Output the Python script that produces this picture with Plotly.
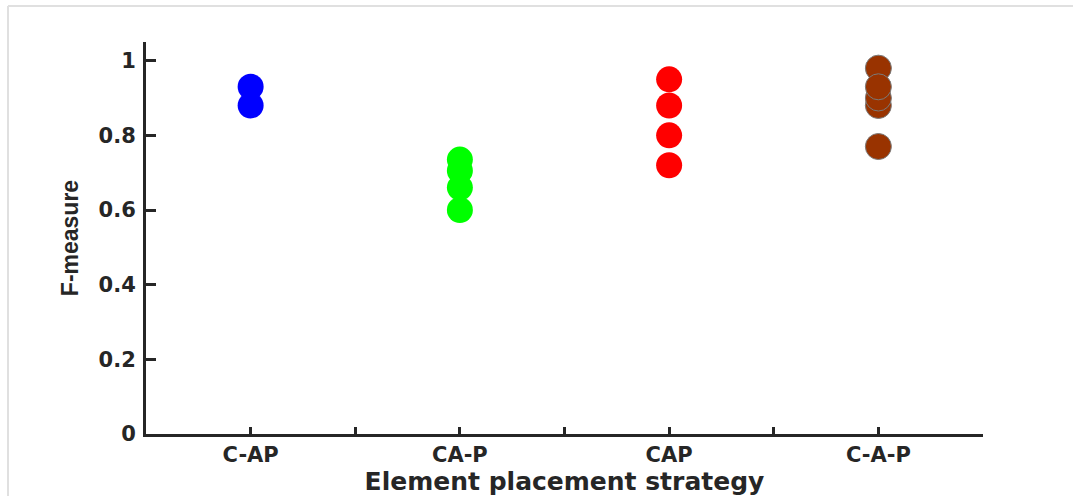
import plotly.graph_objects as go

# Strategies on the x axis and the F-measure of each run
strategies = ["C-AP", "CA-P", "CAP", "C-A-P"]
fm_c_ap = [0.93, 0.88]
fm_ca_p = [0.735, 0.705, 0.66, 0.60]
fm_cap = [0.95, 0.88, 0.80, 0.72]
fm_c_a_p = [0.77, 0.88, 0.90, 0.98, 0.93]
y_ticks = [0, 0.2, 0.4, 0.6, 0.8, 1]
y_tick_text = ["0", "0.2", "0.4", "0.6", "0.8", "1"]

series = [
    (fm_c_ap, "#0000ff", None),
    (fm_ca_p, "#00ff00", None),
    (fm_cap, "#ff0000", None),
    (fm_c_a_p, "#993300", "#7a7a7a"),
]

WIDE = "DejaVu Sans, Verdana, sans-serif"
NARROW = "Liberation Sans, Arial, Helvetica, sans-serif"
AXIS_COLOR = "#262626"

fig = go.Figure()
for i, (vals, color, edge) in enumerate(series):
    fig.add_trace(go.Scatter(
        x=[i + 1] * len(vals),
        y=vals,
        mode="markers",
        name=strategies[i],
        marker=dict(
            size=26,
            color=color,
            line=dict(width=1 if edge else 0, color=edge or color),
        ),
        showlegend=False,
        hoverinfo="x+y",
    ))

fig.update_layout(
    width=1073,
    height=496,
    margin=dict(l=146, r=90, t=42, b=62),
    paper_bgcolor="white",
    plot_bgcolor="white",
    font=dict(family=WIDE, color=AXIS_COLOR),
    xaxis=dict(
        range=[0.5, 4.5],
        tickvals=[1, 2, 3, 4],
        ticktext=strategies,
        ticks="inside",
        ticklen=7,
        tickwidth=2.5,
        tickcolor=AXIS_COLOR,
        minor=dict(tickvals=[1.5, 2.5, 3.5], ticks="inside", ticklen=7,
                   tickwidth=2.5, tickcolor=AXIS_COLOR, showgrid=False),
        showline=True,
        linecolor=AXIS_COLOR,
        linewidth=3,
        showgrid=False,
        zeroline=False,
        tickfont=dict(family=WIDE, size=21, color=AXIS_COLOR, weight="bold"),
        ticklabelstandoff=0,
        title=dict(text="<b>Element placement strategy</b>",
                   font=dict(family=WIDE, size=25, color=AXIS_COLOR),
                   standoff=8),
        automargin=False,
    ),
    yaxis=dict(
        range=[0, 1.05],
        tickvals=y_ticks,
        ticktext=y_tick_text,
        ticks="inside",
        ticklen=10,
        tickwidth=2.5,
        tickcolor=AXIS_COLOR,
        showline=True,
        linecolor=AXIS_COLOR,
        linewidth=3,
        showgrid=False,
        zeroline=False,
        tickfont=dict(family=WIDE, size=21, color=AXIS_COLOR, weight="bold"),
        ticklabelstandoff=3,
        title=dict(text="<b>F-measure</b>",
                   font=dict(family=NARROW, size=23, color=AXIS_COLOR),
                   standoff=14),
        automargin=False,
    ),
    shapes=[
        # light frame along the top and left edges of the page
        dict(type="line", xref="paper", yref="paper",
             x0=-138 / 837, x1=1.2, y0=(496 - 62 - 6) / 392, y1=(496 - 62 - 6) / 392,
             line=dict(color="#e0e0e0", width=2)),
        dict(type="line", xref="paper", yref="paper",
             x0=-138 / 837, x1=-138 / 837, y0=-0.2, y1=(496 - 62 - 6) / 392,
             line=dict(color="#e0e0e0", width=2)),
    ],
)

fig.write_html("out.html")
